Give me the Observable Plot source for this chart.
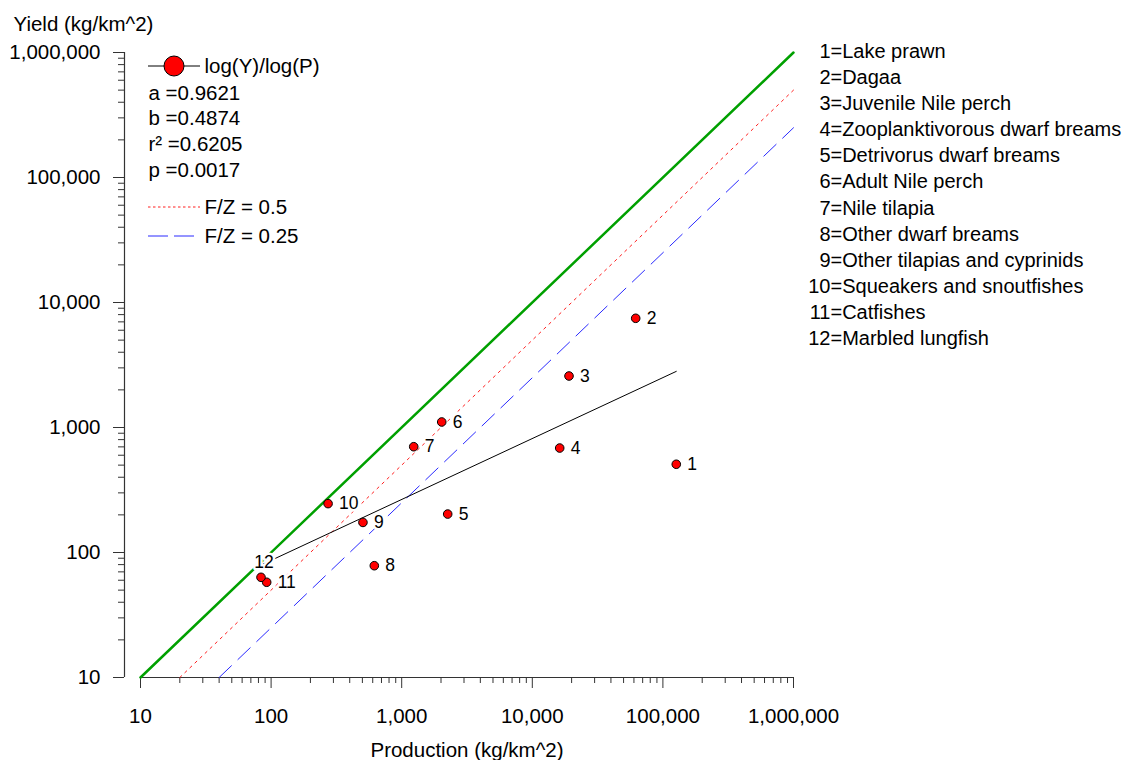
<!DOCTYPE html>
<html>
<head>
<meta charset="utf-8">
<script src="https://cdn.jsdelivr.net/npm/d3@7"></script>
<script src="https://cdn.jsdelivr.net/npm/@observablehq/plot@0.6"></script>
<style>
  body { margin: 0; background: #fff; }
  #chart svg { display: block; }
</style>
</head>
<body>
<div id="chart"></div>
<script>
// ---- Data ----
const ids = [1, 2, 3, 4, 5, 6, 7, 8, 9, 10, 11, 12];
const names = [
  "Lake prawn", "Dagaa", "Juvenile Nile perch", "Zooplanktivorous dwarf breams",
  "Detrivorus dwarf breams", "Adult Nile perch", "Nile tilapia", "Other dwarf breams",
  "Other tilapias and cyprinids", "Squeakers and snoutfishes", "Catfishes", "Marbled lungfish"
];
const production = [126600, 61900, 19100, 16210, 2250, 2025, 1236, 617, 505, 273, 92.5, 83.7];
const yieldValues = [508, 7475, 2582, 685, 203, 1107, 702, 78.4, 174, 246, 57.8, 63.3];
const fitA = 0.9621, fitB = 0.4874, fitR2 = 0.6205, fitP = 0.0017;
const fzRatios = [1, 0.5, 0.25];
const fzLegend = ["F/Z = 0.5", "F/Z = 0.25"];
const majorTicks = [10, 100, 1000, 10000, 100000, 1000000];
const minorMultipliers = [2, 3, 4, 5, 6, 7, 8, 9];
const xTitle = "Production (kg/km^2)";
const yTitle = "Yield (kg/km^2)";
const fitLabel = "log(Y)/log(P)";

// ---- Derived tables ----
const points = ids.map((id, i) => ({id, P: production[i], Y: yieldValues[i]}));
const pMin = d3.min(production), pMax = d3.max(production);
const fitLine = [pMin, pMax].map(p => ({P: p, Y: Math.pow(10, fitA + fitB * Math.log10(p))}));
const lo = majorTicks[0], hi = majorTicks[majorTicks.length - 1];
const refLines = fzRatios.flatMap(r => [{r, P: lo / r, Y: lo}, {r, P: hi, Y: hi * r}]);
const minorTicks = majorTicks.slice(0, -1).flatMap(d => minorMultipliers.map(m => m * d));
const fmt = d3.format(",");

const FONT = "'Liberation Sans', Arial, sans-serif";
const FS = 20.5;
const FSR = 20;
const AX = "#333";

const chart = Plot.plot({
  width: 1126,
  height: 760,
  marginLeft: 140,
  marginRight: 333,
  marginTop: 52,
  marginBottom: 83,
  style: {fontFamily: FONT, fontSize: FS + "px", color: "#000", background: "#fff"},
  x: {type: "log", domain: [lo, hi], nice: false},
  y: {type: "log", domain: [lo, hi], nice: false},
  marks: [
    // axis lines
    Plot.ruleX([lo], {dx: -16, stroke: AX, strokeWidth: 1.2}),
    Plot.ruleY([lo], {stroke: AX, strokeWidth: 1.2}),
    // y axis
    Plot.axisY(minorTicks, {anchor: "left", tickSize: 6, dx: -16, tickFormat: () => "", stroke: AX, label: null}),
    Plot.axisY(majorTicks, {anchor: "left", tickSize: 11, tickPadding: 13, dx: -16, tickFormat: fmt, stroke: AX, fill: "#000", fontSize: FS, label: null}),
    // x axis
    Plot.axisX(minorTicks, {anchor: "bottom", tickSize: 6, tickFormat: () => "", stroke: AX, label: null}),
    Plot.axisX(majorTicks, {anchor: "bottom", tickSize: 11, tickPadding: 20, tickFormat: fmt, stroke: AX, fill: "#000", fontSize: FS, label: null}),
    // axis titles
    Plot.text([yTitle], {text: d => d, frameAnchor: "top-left", dx: -127, dy: -28, textAnchor: "start", lineAnchor: "middle", fontSize: FS}),
    Plot.text([xTitle], {text: d => d, frameAnchor: "bottom", dy: 73, lineAnchor: "middle", fontSize: FS}),
    // reference lines
    Plot.line(refLines.filter(d => d.r === fzRatios[0]), {x: "P", y: "Y", stroke: "#00a000", strokeWidth: 2.5}),
    Plot.line(refLines.filter(d => d.r === fzRatios[1]), {x: "P", y: "Y", stroke: "#ff2020", strokeWidth: 1, strokeDasharray: "2.5,4.5"}),
    Plot.line(refLines.filter(d => d.r === fzRatios[2]), {x: "P", y: "Y", stroke: "#2a2aff", strokeWidth: 1, strokeDasharray: "17,9"}),
    // regression
    Plot.line(fitLine, {x: "P", y: "Y", stroke: "#000", strokeWidth: 1}),
    // point labels (white halo hides lines beneath, as in the original)
    Plot.text(points.filter(d => d.id !== 12), {x: "P", y: "Y", text: d => String(d.id), dx: 11, textAnchor: "start", lineAnchor: "middle", fontSize: 17.5, fill: "#000", stroke: "#fff", strokeWidth: 5}),
    Plot.text(points.filter(d => d.id === 12), {x: "P", y: "Y", text: d => String(d.id), dx: 3, dy: -15, textAnchor: "middle", lineAnchor: "middle", fontSize: 17.5, fill: "#000", stroke: "#fff", strokeWidth: 5}),
    // points
    Plot.dot(points, {x: "P", y: "Y", r: 4.3, fill: "#ff0000", stroke: "#000", strokeWidth: 1}),
    // top-left legend texts
    Plot.text([fitLabel], {text: d => d, frameAnchor: "top-left", dx: 64, dy: 14, textAnchor: "start", lineAnchor: "middle", fontSize: FS}),
    Plot.text([[`a =${fitA}`, `b =${fitB}`, `r\u00B2 =${fitR2}`, `p =${fitP}`].join("\n")],
      {text: d => d, frameAnchor: "top-left", dx: 8, dy: 29, textAnchor: "start", lineAnchor: "top", lineHeight: 1.255, fontSize: FS}),
    Plot.text([fzLegend[0]], {text: d => d, frameAnchor: "top-left", dx: 64, dy: 155, textAnchor: "start", lineAnchor: "middle", fontSize: FS}),
    Plot.text([fzLegend[1]], {text: d => d, frameAnchor: "top-left", dx: 64, dy: 184, textAnchor: "start", lineAnchor: "middle", fontSize: FS}),
    // right legend
    Plot.text([ids.join("\n")], {text: d => d, frameAnchor: "top-right", dx: 37, dy: -12.8, textAnchor: "end", lineAnchor: "top", lineHeight: 1.303, fontSize: FSR}),
    Plot.text([names.map(n => "=" + n).join("\n")], {text: d => d, frameAnchor: "top-right", dx: 37, dy: -12.8, textAnchor: "start", lineAnchor: "top", lineHeight: 1.303, fontSize: FSR})
  ]
});

document.getElementById("chart").append(chart);

// legend swatches
const svg = d3.select(chart);
const g = svg.append("g");
g.append("line").attr("x1", 148).attr("x2", 200).attr("y1", 66).attr("y2", 66).attr("stroke", "#000").attr("stroke-width", 1);
g.append("circle").attr("cx", 174).attr("cy", 66).attr("r", 10).attr("fill", "#ff0000").attr("stroke", "#000").attr("stroke-width", 1);
g.append("line").attr("x1", 148).attr("x2", 200).attr("y1", 207).attr("y2", 207).attr("stroke", "#ff2020").attr("stroke-width", 1).attr("stroke-dasharray", "2.5,2.5");
g.append("line").attr("x1", 148).attr("x2", 200).attr("y1", 236).attr("y2", 236).attr("stroke", "#2a2aff").attr("stroke-width", 1).attr("stroke-dasharray", "20,6");
</script>
</body>
</html>
